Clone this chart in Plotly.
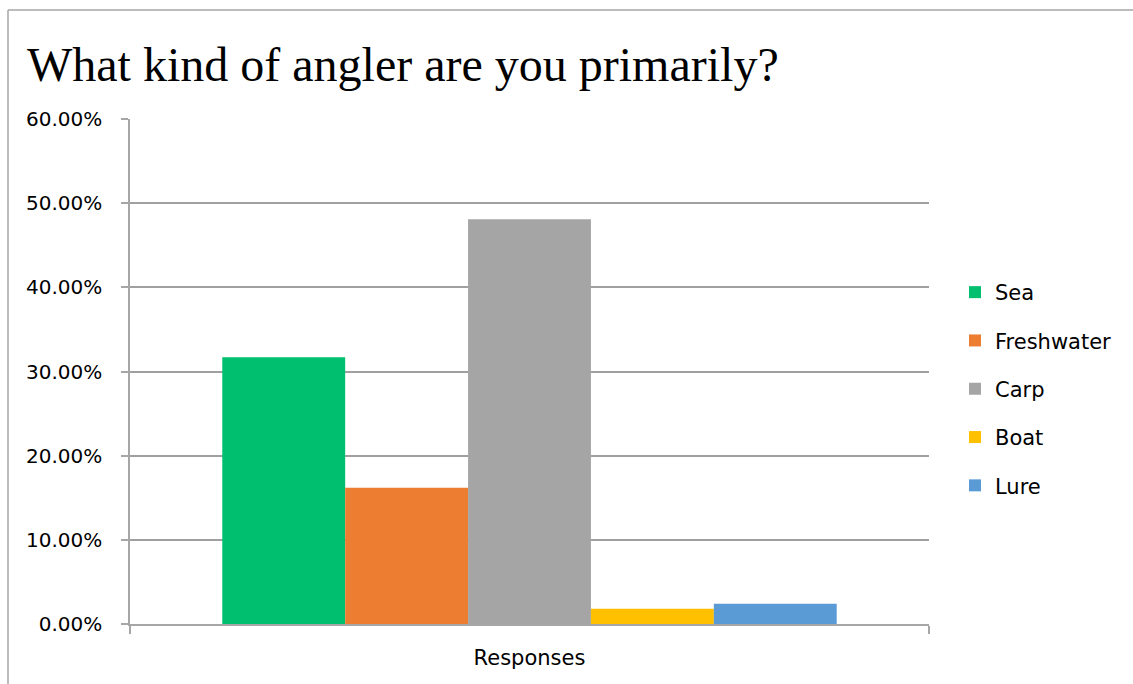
import plotly.graph_objects as go

categories = ["Responses"]
series_names = ["Sea", "Freshwater", "Carp", "Boat", "Lure"]
series_values = [0.317, 0.162, 0.481, 0.018, 0.024]
series_colors = ["#00BF6F", "#ED7D31", "#A5A5A5", "#FFC000", "#5B9BD5"]
y_tick_values = [0.0, 0.1, 0.2, 0.3, 0.4, 0.5, 0.6]

fig = go.Figure()
for name, val, col in zip(series_names, series_values, series_colors):
    fig.add_trace(go.Bar(x=categories, y=[val], name=name, marker=dict(color=col, line=dict(width=0)),
                         legendgroup=name))

W, H = 1133, 684
L, R, T, B = 130, 204, 119, 60
pw, ph = W - L - R, H - T - B

def px_x(x):
    return (x - L) / pw

def px_y(y):
    return (H - B - y) / ph

FONT = "DejaVu Sans"
fig.update_layout(
    width=W, height=H,
    margin=dict(l=L, r=R, t=T, b=B),
    paper_bgcolor="white", plot_bgcolor="white",
    barmode="group", bargap=0.231, bargroupgap=0,
    title=dict(text="What kind of angler are you primarily?",
               font=dict(family="Liberation Serif", size=48, color="black"),
               x=27 / W, xanchor="left", xref="container",
               y=1 - 64 / H, yanchor="middle", yref="container"),
    font=dict(family=FONT, color="black"),
    legend=dict(x=px_x(955), xanchor="left", y=px_y(389), yanchor="middle",
                font=dict(size=21, family=FONT, color="black"),
                tracegroupgap=18, itemwidth=30, traceorder="grouped"),
    xaxis=dict(showline=True, linecolor="#A6A6A6", linewidth=1.5,
               ticks="outside", tickson="boundaries", ticklen=8, tickcolor="#A6A6A6",
               tickwidth=1.5, tickfont=dict(size=21, family=FONT, color="black"),
               ticklabelstandoff=14, showgrid=False),
    yaxis=dict(range=[0, 0.6], tickvals=y_tick_values, tickformat=".2%",
               showline=True, linecolor="#A6A6A6", linewidth=1.5,
               ticks="outside", ticklen=7, tickcolor="#A6A6A6", tickwidth=1.5,
               showgrid=True, gridcolor="#A0A0A0", gridwidth=1.5,
               tickfont=dict(size=20, family=FONT, color="black"),
               ticklabelstandoff=15, zeroline=False),
    shapes=[
        dict(type="line", xref="paper", yref="paper", x0=px_x(8), x1=px_x(1140),
             y0=px_y(10), y1=px_y(10), line=dict(color="#A6A6A6", width=1.5)),
        dict(type="line", xref="paper", yref="paper", x0=px_x(8), x1=px_x(8),
             y0=px_y(10), y1=px_y(690), line=dict(color="#A6A6A6", width=1.5)),
    ],
)

fig.write_html("out.html", config={"displayModeBar": False},
               post_script="document.body.style.margin='0';document.body.style.overflow='hidden';")
